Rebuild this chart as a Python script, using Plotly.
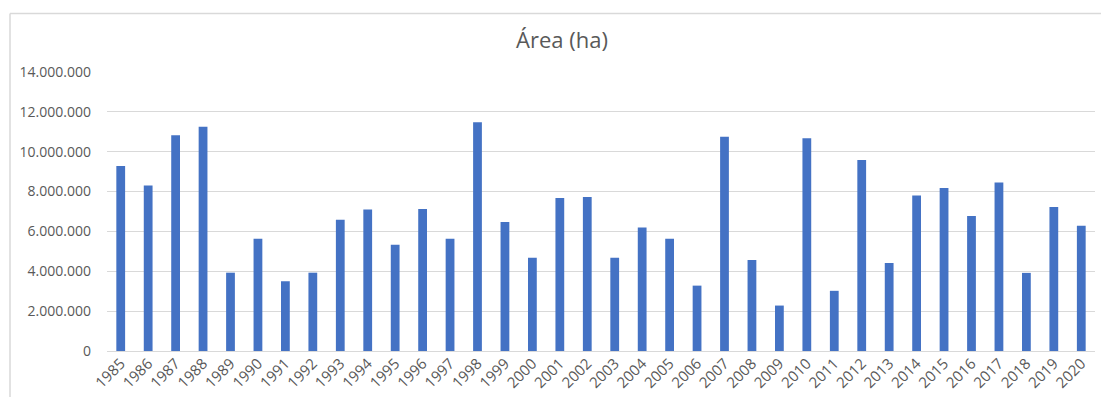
import plotly.graph_objects as go

# Burned area per year (hectares)
years = [str(y) for y in range(1985, 2021)]
area_ha = [
    9280000, 8300000, 10830000, 11250000, 3930000, 5630000, 3500000, 3930000,
    6580000, 7100000, 5330000, 7120000, 5630000, 11480000, 6470000, 4680000,
    7680000, 7730000, 4680000, 6200000, 5630000, 3280000, 10750000, 4570000,
    2280000, 10680000, 3020000, 9580000, 4420000, 7800000, 8180000, 6770000,
    8450000, 3920000, 7230000, 6280000,
]
y_ticks = [0, 2000000, 4000000, 6000000, 8000000, 10000000, 12000000, 14000000]
y_tick_text = ["0", "2.000.000", "4.000.000", "6.000.000", "8.000.000",
               "10.000.000", "12.000.000", "14.000.000"]

TEXT = "#595959"
GRID = "#d9d9d9"
FONT = "Open Sans"

fig = go.Figure(
    go.Bar(
        x=years,
        y=area_ha,
        marker=dict(color="#4472C4", line=dict(width=0)),
        hoverinfo="x+y",
    )
)

# plot-area geometry in pixels (for the chart frame drawn in paper coords)
W, H = 1101, 397
L, R, T, B = 107, 6, 72, 46
pw, ph = W - L - R, H - T - B
fx0 = (10 - L) / pw
fy1 = (H - B - 13.5) / ph

fig.update_layout(
    width=W,
    height=H,
    margin=dict(l=L, r=R, t=T, b=B),
    paper_bgcolor="white",
    plot_bgcolor="white",
    bargap=0.68,
    showlegend=False,
    font=dict(family=FONT, color=TEXT, size=14),
    title=dict(
        text="Área (ha)",
        x=562 / W,
        xref="container",
        xanchor="center",
        y=1 - 40 / H,
        yref="container",
        yanchor="middle",
        font=dict(family=FONT, size=22, color=TEXT),
    ),
    xaxis=dict(
        type="category",
        tickangle=-45,
        showgrid=False,
        showline=False,
        ticks="",
        tickfont=dict(size=15, color=TEXT),
        fixedrange=True,
    ),
    yaxis=dict(
        range=[0, 14000000],
        tickvals=y_ticks,
        ticktext=y_tick_text,
        showgrid=True,
        gridcolor=GRID,
        gridwidth=1,
        zeroline=True,
        zerolinecolor=GRID,
        zerolinewidth=1,
        showline=False,
        ticks="",
        ticklabelstandoff=15,
        tickfont=dict(size=14, color=TEXT),
        fixedrange=True,
    ),
    shapes=[
        dict(type="line", xref="paper", yref="paper",
             x0=fx0, x1=fx0, y0=-0.3, y1=fy1,
             line=dict(color=GRID, width=1.5)),
        dict(type="line", xref="paper", yref="paper",
             x0=fx0, x1=1.1, y0=fy1, y1=fy1,
             line=dict(color=GRID, width=1.5)),
    ],
)

fig.write_html("out.html")
